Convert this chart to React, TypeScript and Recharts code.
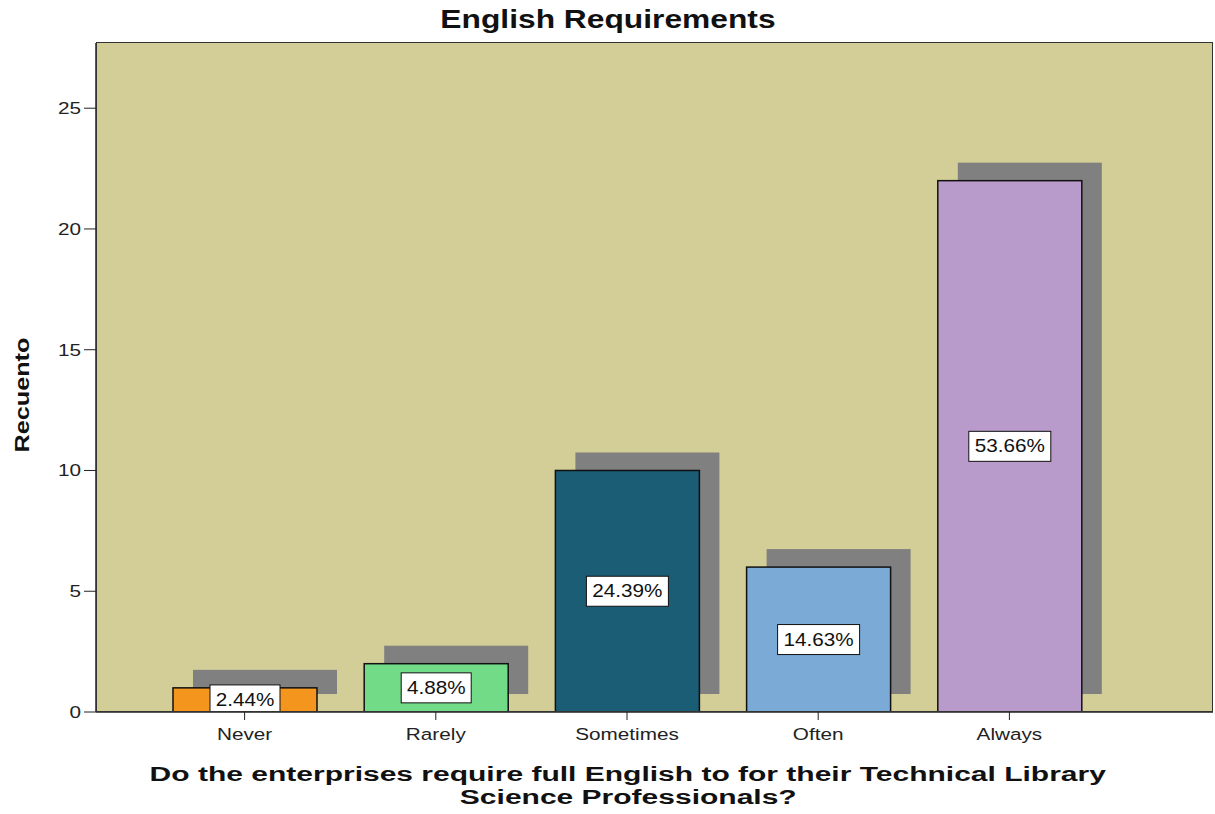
// English Requirements — SPSS-style bar chart with drop shadows and percent labels
import { BarChart, Bar, XAxis, YAxis, CartesianGrid, Cell } from "recharts";

const categories = ["Never", "Rarely", "Sometimes", "Often", "Always"];
const counts = [1, 2, 10, 6, 22];
const percents = ["2.44%", "4.88%", "24.39%", "14.63%", "53.66%"];
const yTicks = [0, 5, 10, 15, 20, 25];
const xTitleLines = [
  "Do the enterprises require full English to for their Technical Library",
  "Science Professionals?",
];

const colors = ["#F4961E", "#72DB88", "#1B5D74", "#7BAAD7", "#B89BCB"];

const FONT = "'Liberation Sans', Arial, sans-serif";

const data = categories.map((c, i) => ({ name: c, count: counts[i], pct: percents[i] }));

// the source image is a bit stretched sideways, so text gets a scaleX
function XTick({ x, y, payload }: any) {
  return (
    <text transform={`translate(${x},${y + 14}) scale(1.22,1)`} textAnchor="middle" fontSize={17} fontFamily={FONT} fill="#222">
      {payload.value}
    </text>
  );
}

function YTick({ x, y, payload }: any) {
  return (
    <text transform={`translate(${x},${y + 6}) scale(1.22,1)`} textAnchor="end" fontSize={17} fontFamily={FONT} fill="#222">
      {payload.value}
    </text>
  );
}

// bar with grey offset shadow behind it and a boxed percentage in the middle
function ShadowBar(props: any) {
  const { x, y, width, height, fill, payload } = props;
  const cx = x + width / 2;
  const cy = y + height / 2;
  const boxW = payload.pct.length * 12 + 10;
  return (
    <g>
      <rect x={x + 20} y={y - 18} width={width} height={height} fill="#808080" />
      <rect x={x} y={y} width={width} height={height} fill={fill} stroke="#111" strokeWidth={1.5} />
      <rect x={cx - boxW / 2} y={cy - 15} width={boxW} height={30} fill="#fff" stroke="#111" strokeWidth={1} />
      <text transform={`translate(${cx},${cy + 6}) scale(1.15,1)`} textAnchor="middle" fontSize={18} fontFamily={FONT} fill="#111">
        {payload.pct}
      </text>
    </g>
  );
}

export default function App() {
  return (
    <div style={{ position: "absolute", left: 0, top: 0, width: 1215, height: 814, background: "#fff", fontFamily: FONT }}>
      <div style={{ position: "absolute", left: 0, width: 1215, top: 5, textAlign: "center", color: "#111" }}>
        <span style={{ display: "inline-block", fontSize: 25, fontWeight: "bold", transform: "scaleX(1.27)" }}>English Requirements</span>
      </div>
      <BarChart width={1215} height={814} data={data} margin={{ top: 43, right: 2, left: 36, bottom: 72 }}>
        <CartesianGrid horizontal={false} vertical={false} fill="#D3CD98" />
        <XAxis
          dataKey="name"
          padding={{ left: 53, right: 108 }}
          height={30}
          tick={<XTick />}
          tickLine={{ stroke: "#222" }}
          tickSize={8}
          tickMargin={6}
          axisLine={{ stroke: "#222", strokeWidth: 1.5 }}
        />
        <YAxis
          width={60}
          domain={[0, 27.7]}
          ticks={yTicks}
          allowDataOverflow
          tick={<YTick />}
          tickLine={{ stroke: "#222" }}
          tickSize={12}
          tickMargin={3}
          axisLine={{ stroke: "#222", strokeWidth: 1.5 }}
        />
        <Bar dataKey="count" barSize={144} shape={<ShadowBar />} isAnimationActive={false}>
          {data.map((d, i) => (
            <Cell key={d.name} fill={colors[i]} />
          ))}
        </Bar>
      </BarChart>
      {/* plot frame */}
      <div style={{ position: "absolute", left: 96, top: 42, width: 1117, height: 670, border: "1.5px solid #333", boxSizing: "border-box", pointerEvents: "none" }} />
      <div style={{ position: "absolute", left: 22, top: 395, transform: "translate(-50%, -50%) rotate(-90deg) scaleX(1.2)", fontSize: 21, fontWeight: "bold", color: "#111", whiteSpace: "nowrap" }}>
        Recuento
      </div>
      {xTitleLines.map((line, i) => (
        <div key={i} style={{ position: "absolute", left: 100, width: 1056, top: 764 + i * 23, textAlign: "center", color: "#111" }}>
          <span style={{ display: "inline-block", fontSize: 20, fontWeight: "bold", lineHeight: "20px", transform: "scaleX(1.5)" }}>
            {line}
          </span>
        </div>
      ))}
    </div>
  );
}
